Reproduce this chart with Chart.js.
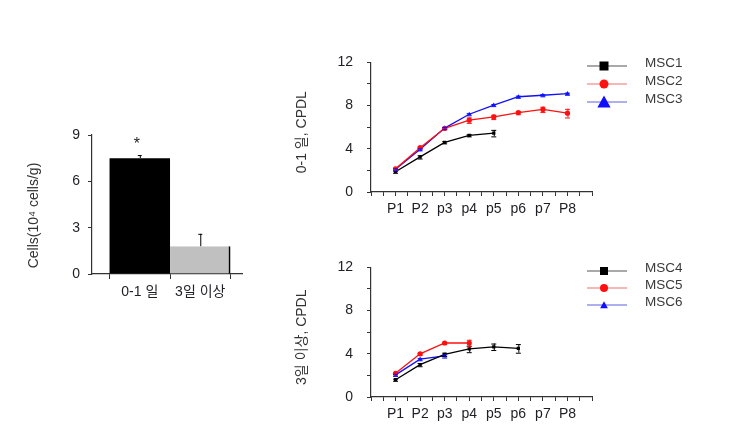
<!DOCTYPE html>
<html><head><meta charset="utf-8">
<script src="https://cdn.jsdelivr.net/npm/chart.js@4/dist/chart.umd.min.js"></script>
<style>
html,body{margin:0;padding:0;background:#fff;}
#wrap{position:relative;width:732px;height:448px;overflow:hidden;background:#fff;}
canvas{position:absolute;}
</style></head><body>
<div id="wrap">
<canvas id="bar" width="260" height="200" style="left:0;top:110px"></canvas>
<canvas id="top" width="452" height="190" style="left:280px;top:40px"></canvas>
<canvas id="bot" width="452" height="190" style="left:280px;top:245px"></canvas>
</div>
<script>
// ---- data ----
const barCategories = ['0-1 일', '3일 이상'];
const barValues = [7.5, 1.8];
const barErrors = [0.2, 0.8];
const barMarks = ['*', ''];
const barYTitle = 'Cells(10\u2074 cells/g)';

const passages = ['P1', 'P2', 'p3', 'p4', 'p5', 'p6', 'p7', 'P8'];

const msc1 = [1.88, 3.25, 4.6, 5.25, 5.45];
const msc1Err = [0.1, 0.15, 0.1, 0.1, 0.3];
const msc2 = [2.15, 4.1, 5.9, 6.65, 6.95, 7.35, 7.65, 7.3];
const msc2Err = [0.1, 0.1, 0.1, 0.25, 0.2, 0.15, 0.25, 0.4];
const msc3 = [2.1, 3.95, 5.92, 7.2, 8.05, 8.82, 8.96, 9.1];
const msc3Err = [0.1, 0.1, 0.1, 0.1, 0.1, 0.1, 0.1, 0.1];

const msc4 = [1.6, 3.0, 3.95, 4.45, 4.65, 4.5];
const msc4Err = [0.1, 0.15, 0.15, 0.3, 0.3, 0.4];
const msc5 = [2.2, 4.0, 5.0, 5.0];
const msc5Err = [0.1, 0.1, 0.1, 0.3];
const msc6 = [2.05, 3.5, 3.8];
const msc6Err = [0.1, 0.1, 0.15];

const topTitle = '0-1 일, CPDL';
const botTitle = '3일 이상, CPDL';

// ---- styling ----
const FONT = '"Liberation Sans", Arial, "Noto Sans CJK KR", sans-serif';
const TXT = '#1e1e24';

const errorBarPlugin = {
  id: 'errorBars',
  afterDatasetsDraw(chart) {
    const ctx = chart.ctx;
    const xs = chart.scales.x, ys = chart.scales.y;
    chart.data.datasets.forEach((ds) => {
      if (!ds.errors) return;
      ctx.save();
      ctx.strokeStyle = ds.errorColor || ds.borderColor;
      ctx.lineWidth = 1;
      ds.data.forEach((p, i) => {
        const e = ds.errors[i];
        if (e == null) return;
        const x = xs.getPixelForValue(p.x);
        const yTop = ys.getPixelForValue(p.y + e);
        const yBot = ds.errorUpOnly ? ys.getPixelForValue(p.y) : ys.getPixelForValue(p.y - e);
        const cap = ds.errorCap || 3;
        ctx.beginPath();
        ctx.moveTo(x + 0.5, yTop); ctx.lineTo(x + 0.5, yBot);
        ctx.moveTo(x - cap, yTop + 0.5); ctx.lineTo(x + cap, yTop + 0.5);
        if (!ds.errorUpOnly) { ctx.moveTo(x - cap, yBot + 0.5); ctx.lineTo(x + cap, yBot + 0.5); }
        ctx.stroke();
      });
      ctx.restore();
    });
  }
};

const markPlugin = {
  id: 'marks',
  afterDatasetsDraw(chart) {
    const ds = chart.data.datasets[0];
    if (!ds.marks) return;
    const ctx = chart.ctx;
    ctx.save();
    ctx.fillStyle = TXT;
    ctx.font = '16px ' + FONT;
    ctx.textAlign = 'center';
    ctx.textBaseline = 'middle';
    ds.data.forEach((p, i) => {
      const m = ds.marks[i];
      if (!m) return;
      const x = chart.scales.x.getPixelForValue(p.x);
      const y = chart.scales.y.getPixelForValue(p.y + ds.errors[i]);
      ctx.fillText(m, x - 3, y - 10);
    });
    ctx.restore();
  }
};

const sideTitlePlugin = {
  id: 'sideTitle',
  afterDraw(chart, args, opts) {
    if (!opts.text) return;
    const ctx = chart.ctx;
    ctx.save();
    ctx.translate(opts.x, (chart.chartArea.top + chart.chartArea.bottom) / 2 + opts.dy);
    ctx.rotate(-Math.PI / 2);
    ctx.fillStyle = '#333';
    ctx.font = opts.size + 'px ' + FONT;
    ctx.textAlign = 'center';
    ctx.textBaseline = 'middle';
    ctx.fillText(opts.text, 0, 0);
    ctx.restore();
  }
};

function drawMarker(ctx, style, x, y, size, color) {
  ctx.fillStyle = color;
  ctx.beginPath();
  if (style === 'rect') {
    ctx.rect(x - size / 2, y - size / 2, size, size);
  } else if (style === 'circle') {
    ctx.arc(x, y, size / 2, 0, Math.PI * 2);
  } else if (style === 'triangle') {
    ctx.moveTo(x, y - size * 0.55);
    ctx.lineTo(x + size * 0.55, y + size * 0.45);
    ctx.lineTo(x - size * 0.55, y + size * 0.45);
    ctx.closePath();
  }
  ctx.fill();
}

const sideLegendPlugin = {
  id: 'sideLegend',
  afterDraw(chart, args, opts) {
    const ctx = chart.ctx;
    ctx.save();
    chart.data.datasets.forEach((ds, i) => {
      const y = opts.y0 + i * opts.dy;
      ctx.strokeStyle = ds.legendLine;
      ctx.lineWidth = 1.2;
      ctx.beginPath();
      ctx.moveTo(opts.x0, y); ctx.lineTo(opts.x1, y);
      ctx.stroke();
      drawMarker(ctx, ds.pointStyle, opts.xm, y, opts.sizes[i], ds.borderColor);
      ctx.fillStyle = '#3a3a3a';
      ctx.font = '13.5px ' + FONT;
      ctx.textAlign = 'left';
      ctx.textBaseline = 'middle';
      ctx.fillText(ds.label, opts.xt, y - 3);
    });
    ctx.restore();
  }
};

// ---- bar chart ----
new Chart(document.getElementById('bar'), {
  type: 'bar',
  data: {
    datasets: [{
      data: barValues.map((v, i) => ({ x: i + 1, y: v })),
      errors: barErrors,
      marks: barMarks,
      errorUpOnly: true,
      errorCap: 2,
      errorColor: '#000',
      backgroundColor: ['#000000', '#c0c0c0'],
      borderColor: '#000000',
      borderSkipped: false,
      borderWidth: (c) => c.dataIndex === 1 ? { top: 0, right: 2, bottom: 0, left: 0 } : 0,
      barPercentage: 1,
      categoryPercentage: 2
    }]
  },
  options: {
    responsive: false, animation: false, devicePixelRatio: 1,
    layout: { padding: { left: 0, right: 18, top: 25, bottom: 0 } },
    plugins: { legend: { display: false }, tooltip: { enabled: false },
      sideTitle: { text: barYTitle, x: 34, dy: 11, size: 14 } },
    scales: {
      x: {
        type: 'linear', min: 0.21, max: 2.69, offset: false,
        afterBuildTicks: (s) => { s.ticks = [0.5, 1, 1.5, 2, 2.5].map(v => ({ value: v })); },
        afterFit: (s) => { s.height = 36; },
        grid: { offset: false, drawOnChartArea: false, tickLength: 5,
          tickColor: (c) => (c.tick && Number.isInteger(c.tick.value)) ? 'rgba(0,0,0,0)' : '#333' },
        border: { display: true, color: '#333', width: 1.2 },
        ticks: { autoSkip: false, maxRotation: 0, padding: 5, color: TXT,
          font: { family: FONT, size: 14 },
          callback: (v) => Number.isInteger(v) ? barCategories[v - 1] : '' }
      },
      y: {
        min: 0, max: 9,
        afterFit: (s) => { s.width = 92; },
        grid: { drawOnChartArea: false, tickLength: 4, tickColor: '#333' },
        border: { display: true, color: '#333', width: 1.2 },
        ticks: { stepSize: 3, padding: 8, color: TXT, font: { family: FONT, size: 14 } }
      }
    }
  },
  plugins: [errorBarPlugin, markPlugin, sideTitlePlugin]
});

// ---- line charts ----
function lineChart(id, series, yTitle, legendSizes, legendDy) {
  const datasets = series.map(s => ({
    label: s.label,
    data: s.values.map((v, i) => ({ x: i + 1, y: v })),
    errors: s.errors,
    borderColor: s.color,
    backgroundColor: s.color,
    legendLine: s.legendLine,
    borderWidth: 1.3,
    pointStyle: s.style,
    pointRadius: s.style === 'rect' ? 2.3 : 2.6,
    pointBorderWidth: 0,
    tension: 0,
    errorCap: 2.5
  }));
  new Chart(document.getElementById(id), {
    type: 'line',
    data: { datasets },
    options: {
      responsive: false, animation: false, devicePixelRatio: 1,
      layout: { padding: { left: 0, right: 140, top: 13, bottom: 0 } },
      plugins: {
        legend: { display: false }, tooltip: { enabled: false },
        sideLegend: { x0: 307, x1: 347, xm: 324, xt: 365, y0: 26, dy: legendDy, sizes: legendSizes },
        sideTitle: { text: yTitle, x: 22, dy: 5, size: 14 }
      },
      scales: {
        x: {
          type: 'linear', min: 0, max: 9,
          afterFit: (s) => { s.height = 38; },
          grid: { drawOnChartArea: false, tickLength: 4, tickColor: '#333' },
          border: { display: true, color: '#333', width: 1.2 },
          ticks: { stepSize: 0.5, autoSkip: false, maxRotation: 0, padding: 5, color: TXT,
            font: { family: FONT, size: 14 },
            callback: (v) => (Number.isInteger(v) && v >= 1 && v <= passages.length) ? passages[v - 1] : '' }
        },
        y: {
          min: 0, max: 12,
          afterFit: (s) => { s.width = 91; },
          grid: { drawOnChartArea: false, tickLength: 4, tickColor: '#333' },
          border: { display: true, color: '#333', width: 1.2 },
          ticks: { stepSize: 2, padding: 14, color: TXT, font: { family: FONT, size: 14 },
            callback: (v) => v % 4 === 0 ? v : '' }
        }
      }
    },
    plugins: [errorBarPlugin, sideLegendPlugin, sideTitlePlugin]
  });
}

lineChart('top', [
  { label: 'MSC1', values: msc1, errors: msc1Err, color: '#000000', legendLine: '#555555', style: 'rect' },
  { label: 'MSC2', values: msc2, errors: msc2Err, color: '#ff1010', legendLine: '#f07070', style: 'circle' },
  { label: 'MSC3', values: msc3, errors: msc3Err, color: '#1010ff', legendLine: '#6060e0', style: 'triangle' }
], topTitle, [9, 9, 12], 18);

lineChart('bot', [
  { label: 'MSC4', values: msc4, errors: msc4Err, color: '#000000', legendLine: '#555555', style: 'rect' },
  { label: 'MSC5', values: msc5, errors: msc5Err, color: '#ff1010', legendLine: '#f07070', style: 'circle' },
  { label: 'MSC6', values: msc6, errors: msc6Err, color: '#1010ff', legendLine: '#6060e0', style: 'triangle' }
], botTitle, [8, 8, 7], 17);
</script>
</body></html>
